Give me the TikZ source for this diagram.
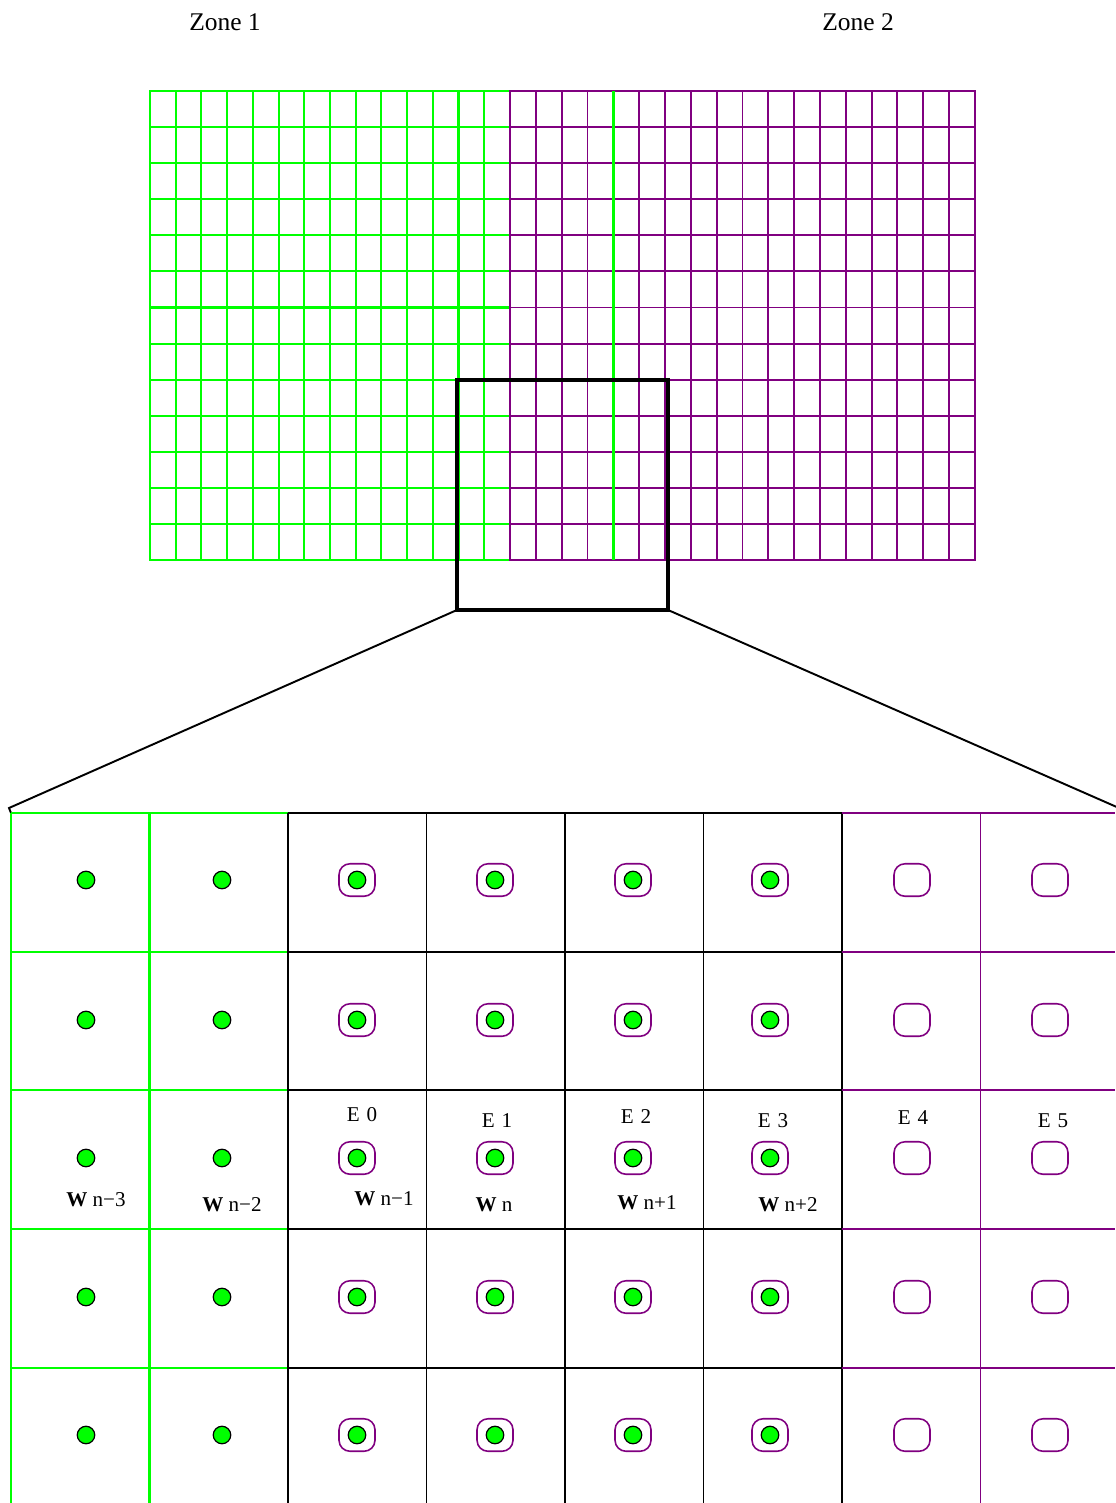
\documentclass[tikz,border=0pt]{standalone}
\usepackage{fontspec}
\setmainfont{Liberation Serif}
\usepackage{xcolor}
\usetikzlibrary{positioning}
\definecolor{zonegreen}{RGB}{0,255,0}
\definecolor{zonepurple}{RGB}{128,0,128}

\begin{document}
\begin{tikzpicture}[
      x=0.02cm, y=-0.02cm,
      gline/.style={draw=zonegreen, line width=1.2pt},
      pline/.style={draw=zonepurple, line width=1.1pt},
      bline/.style={draw=black, line width=1.1pt},
      ptdot/.style={circle, draw=black, fill=zonegreen, line width=0.7pt,
                    minimum size=0.35cm, inner sep=0pt},
      cellring/.style={draw=zonepurple, rounded corners=0.22cm, line width=0.9pt,
                    minimum width=0.72cm, minimum height=0.65cm, inner sep=0pt},
      zlbl/.style={font=\fontsize{14.5}{16}\selectfont},
      lbl/.style={font=\fontsize{12}{14}\selectfont, inner sep=1pt}
    ]
    \useasboundingbox (0,0) rectangle (1115,1503);

    \node[zlbl] (zone1) at (225,22) {Zone 1};
    \node[zlbl] (zone2) at (858,22) {Zone 2};

    % coarse mesh, two zones
    \foreach \i in {0,...,14} \draw[gline] (150+\i*25.71,91) -- (150+\i*25.71,560);
    \foreach \j in {0,...,13} \draw[gline] (150,91+\j*36.08) -- (510,91+\j*36.08);
    \draw[zonegreen, line width=1.5pt] (150,91) rectangle (510,560);
    \foreach \i in {0,...,18} \draw[pline] (510+\i*25.83,91) -- (510+\i*25.83,560);
    \foreach \j in {0,...,13} \draw[pline] (510,91+\j*36.08) -- (975,91+\j*36.08);
    \draw[zonepurple, line width=1.5pt] (510,91) rectangle (975,560);
    \draw[zonegreen, line width=1.7pt] (613.3,91) -- (613.3,560);

    % zoom window
    \draw[line width=2pt] (457,380) rectangle (668,610);
    \coordinate (boxsw) at (457,610);
    \coordinate (boxse) at (668,610);
    \coordinate (kink) at (9,808);
    \coordinate (meshnw) at (11,813);
    \coordinate (meshne) at (1119,808);
    \draw[bline] (boxsw) -- (kink) -- (meshnw);
    \draw[bline] (boxse) -- (meshne);

    % fine mesh
    \foreach \i in {0,1} \draw[gline] (11+\i*138.5,813) -- (11+\i*138.5,1503);
    \foreach \j in {0,...,4} \draw[gline] (11,813+\j*138.7) -- (288,813+\j*138.7);
    \foreach \i in {2,...,6} \draw[bline] (11+\i*138.5,813) -- (11+\i*138.5,1503);
    \foreach \j in {0,...,4} \draw[bline] (288,813+\j*138.7) -- (842,813+\j*138.7);
    \draw[pline] (980.5,813) -- (980.5,1503);
    \foreach \j in {0,...,4} \draw[pline] (842,813+\j*138.7) -- (1115,813+\j*138.7);

    % cell points
    \foreach \y [count=\r] in {880,1020,1158,1297,1435} {
      \foreach \x [count=\c] in {86,222,357,495,633,770}
        \node[ptdot] (dot-\c-\r) at (\x,\y) {};
      \foreach \c in {3,...,6}
        \node[cellring] (ring-\c-\r) at (dot-\c-\r) {};
      \node[cellring] (ring-7-\r) at (912,\y) {};
      \node[cellring] (ring-8-\r) at (1050,\y) {};
    }

    \node[lbl] (e0) at (362,1115) {E\,\,0};
    \node[lbl] (e1) at (497,1121) {E\,\,1};
    \node[lbl] (e2) at (636,1117) {E\,\,2};
    \node[lbl] (e3) at (773,1121) {E\,\,3};
    \node[lbl] (e4) at (913,1118) {E\,\,4};
    \node[lbl] (e5) at (1053,1121) {E\,\,5};

    \node[lbl] (w1) at (96,1200) {\textbf{W} n−3};
    \node[lbl] (w2) at (232,1205) {\textbf{W} n−2};
    \node[lbl] (w3) at (384,1199) {\textbf{W} n−1};
    \node[lbl] (w4) at (494,1205) {\textbf{W} n};
    \node[lbl] (w5) at (647,1203) {\textbf{W} n+1};
    \node[lbl] (w6) at (788,1205) {\textbf{W} n+2};
  \end{tikzpicture}
\end{document}
